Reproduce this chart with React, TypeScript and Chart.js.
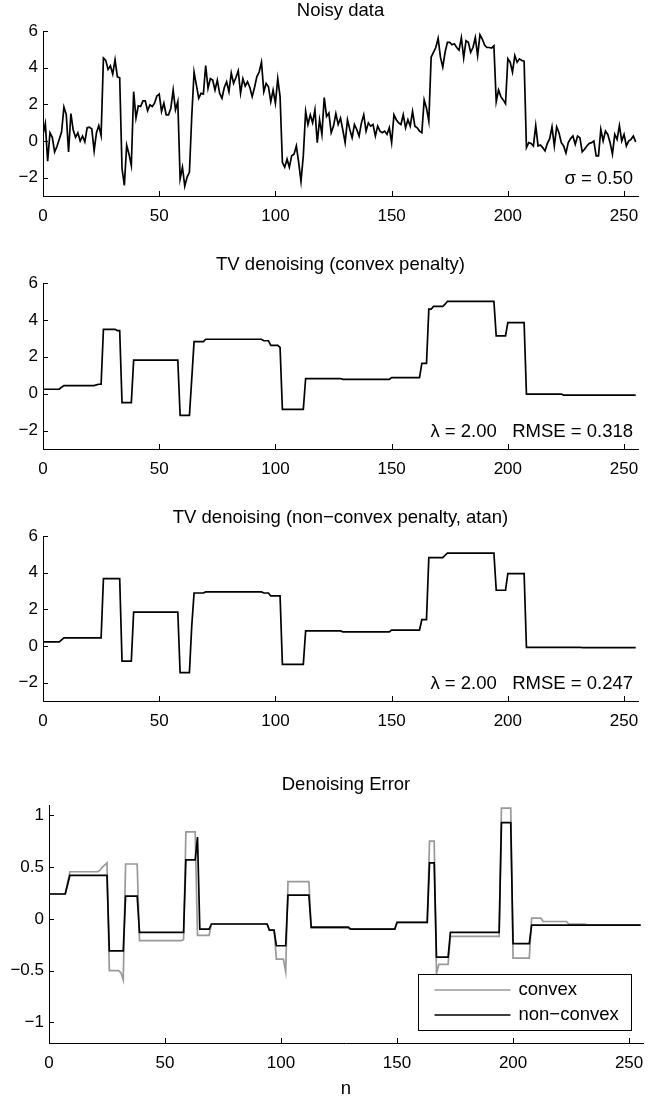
import React, { useEffect, useRef } from "react";
import { Chart, registerables } from "chart.js";

Chart.register(...registerables);

const FONT = '"Liberation Sans", Arial, Helvetica, sans-serif';

// ---------- axis ticks ----------
const X_TICKS = [0, 50, 100, 150, 200, 250];
const SIGNAL_Y_TICKS = [-2, 0, 2, 4, 6];
const ERROR_Y_TICKS = [-1, -0.5, 0, 0.5, 1];

// ---------- noisy data (n = 0..255) ----------
const noisy = [
  0.35, 0.95, -1.1, 0.45, 0.2, -0.6, -0.3, 0.1, 0.5, 1.85,
  1.45, -0.6, 1.5, 0.6, 0.2, 0.45, 0.0, 0.27, -0.05, 0.72,
  0.75, 0.66, -0.54, 0.45, 0.84, 0.3, 4.53, 4.4, 3.9, 4.1,
  3.65, 4.43, 3.5, 3.45, -1.5, -2.42, -0.23, -0.72, -1.34, 2.69,
  1.25, 1.92, 1.88, 2.19, 2.19, 1.65, 1.97, 1.88, 2.06, 2.46,
  2.56, 1.61, 2.06, 1.43, 1.43, 1.79, 2.78, 1.7, 2.15, -2.06,
  -1.43, -2.46, -1.97, -1.7, 1.34, 3.76, 3.05, 2.33, 2.6, 2.56,
  4.12, 2.87, 3.4, 3.32, 2.78, 3.32, 2.6, 2.33, 2.92, 3.23,
  2.69, 3.71, 3.14, 3.46, 3.82, 2.6, 3.4, 3.0, 3.23, 2.92,
  2.42, 2.92, 3.5, 3.76, 4.3, 2.69, 3.14, 2.96, 2.15, 2.78,
  2.06, 3.4, 2.42, -1.16, -1.43, -0.99, -1.43, -0.8, -0.72, -0.27,
  -1.16, -2.2, -0.8, 1.61, 0.9, 1.43, 0.99, 1.7, -0.09, 1.16,
  0.36, 2.37, 1.34, 1.52, 0.45, 0.81, 1.49, 0.9, 1.25, 0.6,
  -0.09, 1.16, 0.63, 0.18, 0.9, 0.63, 0.27, 0.99, 1.43, 0.54,
  0.99, 0.81, 0.9, 0.27, 0.81, 0.54, 0.45, 0.54, 0.36, 0.72,
  -0.09, 1.43, 1.16, 0.99, 0.9, 1.43, 0.72, 1.16, 0.81, 1.61,
  0.81, 0.72, 0.54, 0.45, 2.24, 1.79, 1.08, 4.57, 4.84, 5.1,
  5.6, 4.57, 4.03, 4.84, 5.38, 5.38, 5.25, 5.3, 5.1, 4.96,
  5.64, 4.53, 5.47, 5.38, 4.84, 5.1, 5.64, 4.66, 5.79, 5.56,
  5.23, 5.1, 5.1, 5.07, 5.2, 2.15, 2.78, 2.42, 2.24, 2.03,
  4.48, 4.3, 3.76, 4.66, 4.3, 4.48, 4.39, 4.35, -0.36, -0.09,
  -0.13, -0.27, 0.84, -0.27, -0.22, -0.36, -0.54, -0.13, 0.13, 0.77,
  -0.27, 0.77, 0.45, -0.09, -0.27, -0.66, -0.09, 0.13, 0.27, -0.18,
  0.27, 0.18, -0.59, -0.45, -0.27, -0.13, -0.09, 0.0, -0.81, -0.81,
  0.63, 0.0, 0.54, 0.36, -0.09, -0.72, 0.36, 0.09, 0.84, 0.0,
  0.36, -0.27, 0.0, 0.09, 0.27, -0.05,
];

// ---------- piecewise-constant outputs, read as [level, number of samples] ----------
const tvConvexRuns: [number, number][] = [
  [0.24, 8], [0.35, 1], [0.44, 14], [0.48, 1], [0.51, 2], [3.49, 6], [3.42, 2],
  [-0.49, 5], [1.82, 20], [-1.18, 5], [0.8, 1], [2.82, 5], [2.95, 25], [2.87, 3],
  [2.62, 4], [2.51, 1], [-0.85, 10], [0.82, 16], [0.78, 21], [0.87, 13], [1.64, 3],
  [4.58, 2], [4.73, 5], [4.85, 1], [5.0, 21], [3.13, 5], [3.85, 8], [-0.02, 16], [-0.08, 32],
];

const tvNonConvexRuns: [number, number][] = [
  [0.22, 8], [0.33, 1], [0.44, 17], [3.67, 8], [-0.82, 5], [1.85, 20], [-1.45, 5],
  [1.1, 1], [2.89, 5], [2.95, 25], [2.89, 3], [2.73, 5], [-1.0, 10], [0.82, 16],
  [0.77, 21], [0.87, 13], [1.44, 3], [4.82, 7], [4.95, 1], [5.07, 21], [3.04, 5],
  [3.95, 8], [-0.07, 24], [-0.09, 24],
];

const errConvexRuns: [number, number][] = [
  [0.24, 8], [0.35, 1], [0.455, 13], [0.47, 1], [0.5, 1], [0.52, 1], [0.54, 1],
  [-0.5, 5], [-0.52, 1], [-0.59, 1], [0.53, 6], [-0.21, 19], [-0.2, 1], [0.84, 5],
  [-0.16, 6], [-0.05, 25], [-0.11, 3], [-0.39, 4], [-0.51, 1], [0.36, 10], [-0.09, 17],
  [-0.1, 20], [-0.035, 14], [0.75, 3], [-0.53, 1], [-0.44, 5], [-0.17, 22], [1.07, 5],
  [-0.38, 8], [0.006, 5], [-0.026, 11], [-0.05, 8], [-0.06, 24],
];

const errNonConvexRuns: [number, number][] = [
  [0.24, 8], [0.33, 1], [0.42, 17], [-0.31, 7], [0.22, 6], [-0.13, 20], [0.57, 5],
  [0.79, 1], [-0.1, 5], [-0.05, 25], [-0.11, 3], [-0.26, 5], [0.23, 10], [-0.08, 17],
  [-0.1, 20], [-0.035, 14], [0.54, 3], [-0.37, 6], [-0.13, 22], [0.93, 5], [-0.24, 8],
  [-0.06, 48],
];

const expandRuns = (runs: [number, number][]) => {
  const out: number[] = [];
  runs.forEach(([v, c]) => {
    for (let i = 0; i < c; i++) out.push(v);
  });
  return out;
};

const tvConvex = expandRuns(tvConvexRuns);
const tvNonConvex = expandRuns(tvNonConvexRuns);
const errConvex = expandRuns(errConvexRuns);
const errNonConvex = expandRuns(errNonConvexRuns);

type DS = { label: string; values: number[]; color: string; width: number; order: number };
type Panel = {
  canvasTop: number;
  canvasHeight: number;
  chartTop: number;
  chartBottom: number;
  chartLeft: number;
  chartRight: number;
  titleGap: number;
  yMin: number;
  yMax: number;
  yTicks: number[];
  title: string;
  note?: string;
  xTitle?: string;
  legend?: boolean;
  datasets: DS[];
};

const fmt = (v: number) => String(v).replace("-", "\u2212");

const PANELS: Panel[] = [
  {
    canvasTop: 0, canvasHeight: 250, chartTop: 31, chartBottom: 196, chartLeft: 43, chartRight: 638, titleGap: 15,
    yMin: -3, yMax: 6, yTicks: SIGNAL_Y_TICKS, title: "Noisy data", note: "\u03c3 = 0.50",
    datasets: [{ label: "noisy", values: noisy, color: "#000000", width: 1.7, order: 0 }],
  },
  {
    canvasTop: 250, canvasHeight: 255, chartTop: 283, chartBottom: 449, chartLeft: 43, chartRight: 638, titleGap: 13,
    yMin: -3, yMax: 6, yTicks: SIGNAL_Y_TICKS, title: "TV denoising (convex penalty)",
    note: "\u03bb = 2.00   RMSE = 0.318",
    datasets: [{ label: "convex", values: tvConvex, color: "#000000", width: 1.7, order: 0 }],
  },
  {
    canvasTop: 505, canvasHeight: 265, chartTop: 536, chartBottom: 701, chartLeft: 43, chartRight: 638, titleGap: 13,
    yMin: -3, yMax: 6, yTicks: SIGNAL_Y_TICKS, title: "TV denoising (non\u2212convex penalty, atan)",
    note: "\u03bb = 2.00   RMSE = 0.247",
    datasets: [{ label: "non-convex", values: tvNonConvex, color: "#000000", width: 1.7, order: 0 }],
  },
  {
    canvasTop: 770, canvasHeight: 330, chartTop: 805, chartBottom: 1043, chartLeft: 49, chartRight: 643, titleGap: 15,
    yMin: -1.2, yMax: 1.1, yTicks: ERROR_Y_TICKS, title: "Denoising Error", xTitle: "n", legend: true,
    datasets: [
      { label: "convex", values: errConvex, color: "#999999", width: 1.7, order: 1 },
      { label: "non\u2212convex", values: errNonConvex, color: "#000000", width: 1.7, order: 0 },
    ],
  },
];

const TEXT_FONT = `18.5px ${FONT}`;

function makeDecor(p: Panel) {
  return {
    id: "decor",
    afterDraw(chart: any) {
      const { ctx, chartArea: a, scales } = chart;
      const xs = scales.x;
      const ys = scales.y;
      ctx.save();
      // inward tick marks
      ctx.strokeStyle = "#000";
      ctx.lineWidth = 1;
      ctx.beginPath();
      xs.ticks.forEach((t: any) => {
        const px = Math.round(xs.getPixelForValue(t.value)) + 0.5;
        ctx.moveTo(px, Math.round(a.bottom));
        ctx.lineTo(px, Math.round(a.bottom) - 5);
      });
      ys.ticks.forEach((t: any) => {
        const py = Math.round(ys.getPixelForValue(t.value)) + 0.5;
        ctx.moveTo(Math.round(a.left), py);
        ctx.lineTo(Math.round(a.left) + 5, py);
      });
      ctx.stroke();

      ctx.fillStyle = "#000";
      ctx.font = TEXT_FONT;
      // title
      ctx.textAlign = "center";
      ctx.textBaseline = "alphabetic";
      ctx.fillText(p.title, (a.left + a.right) / 2, a.top - p.titleGap);
      // annotation
      if (p.note) {
        ctx.textAlign = "right";
        ctx.fillText(p.note, a.right - 5, a.bottom - 12);
      }
      // x title
      if (p.xTitle) {
        ctx.textAlign = "center";
        ctx.fillText(p.xTitle, (a.left + a.right) / 2, a.bottom + 51);
      }
      // legend
      if (p.legend) {
        const bl = Math.round(a.right - 225) + 0.5;
        const br = Math.round(a.right - 12) + 0.5;
        const bt = Math.round(a.bottom - 69) + 0.5;
        const bb = Math.round(a.bottom - 13) + 0.5;
        ctx.fillStyle = "#fff";
        ctx.fillRect(bl, bt, br - bl, bb - bt);
        ctx.strokeStyle = "#000";
        ctx.lineWidth = 1;
        ctx.strokeRect(bl, bt, br - bl, bb - bt);
        const rows = [a.bottom - 53, a.bottom - 28];
        chart.data.datasets.forEach((d: any, i: number) => {
          const y = rows[i];
          ctx.strokeStyle = d.borderColor;
          ctx.lineWidth = d.borderWidth;
          ctx.beginPath();
          ctx.moveTo(bl + 16, y);
          ctx.lineTo(bl + 92, y);
          ctx.stroke();
          ctx.fillStyle = "#000";
          ctx.textAlign = "left";
          ctx.textBaseline = "middle";
          ctx.fillText(d.label, bl + 100, y);
        });
      }
      ctx.restore();
    },
  };
}

function PanelChart({ p }: { p: Panel }) {
  const ref = useRef<HTMLCanvasElement | null>(null);
  useEffect(() => {
    if (!ref.current) return;
    const canvasBottom = p.canvasTop + p.canvasHeight;
    const chart = new Chart(ref.current, {
      type: "line",
      data: {
        datasets: p.datasets.map((d) => ({
          label: d.label,
          data: d.values.map((v, i) => ({ x: i, y: v })),
          borderColor: d.color,
          backgroundColor: d.color,
          borderWidth: d.width,
          pointRadius: 0,
          tension: 0,
          fill: false,
          order: d.order,
        })),
      },
      options: {
        responsive: false,
        animation: false,
        devicePixelRatio: 1,
        layout: {
          padding: { top: p.chartTop - p.canvasTop, right: 660 - p.chartRight, left: 0, bottom: 0 },
        },
        plugins: {
          legend: { display: false },
          title: { display: false },
          tooltip: { enabled: false },
        },
        scales: {
          x: {
            type: "linear",
            min: 0,
            max: 256,
            grid: { display: false, drawTicks: false },
            border: { display: true, color: "#000", width: 1 },
            ticks: {
              autoSkip: false,
              maxRotation: 0,
              minRotation: 0,
              padding: 10,
              color: "#000",
              font: { size: 17, family: FONT },
              callback: (v: any) => fmt(Number(v)),
            },
            afterBuildTicks: (s: any) => {
              s.ticks = X_TICKS.map((v) => ({ value: v }));
            },
            afterFit: (s: any) => {
              s.height = canvasBottom - p.chartBottom;
            },
          },
          y: {
            type: "linear",
            min: p.yMin,
            max: p.yMax,
            grid: { display: false, drawTicks: false },
            border: { display: true, color: "#000", width: 1 },
            ticks: {
              autoSkip: false,
              padding: 5,
              color: "#000",
              font: { size: 17, family: FONT },
              callback: (v: any) => fmt(Number(v)),
            },
            afterBuildTicks: (s: any) => {
              s.ticks = p.yTicks.map((v) => ({ value: v }));
            },
            afterFit: (s: any) => {
              s.width = p.chartLeft;
            },
          },
        },
      } as any,
      plugins: [makeDecor(p)],
    });
    return () => chart.destroy();
  }, [p]);
  return (
    <canvas
      ref={ref}
      width={660}
      height={p.canvasHeight}
      style={{ position: "absolute", left: 0, top: p.canvasTop, width: 660, height: p.canvasHeight }}
    />
  );
}

export default function App() {
  Chart.defaults.font.family = FONT;
  Chart.defaults.color = "#000";
  return (
    <div
      style={{
        position: "absolute",
        left: 0,
        top: 0,
        width: 660,
        height: 1100,
        background: "#fff",
        overflow: "hidden",
      }}
    >
      {PANELS.map((p, i) => (
        <PanelChart key={i} p={p} />
      ))}
    </div>
  );
}
